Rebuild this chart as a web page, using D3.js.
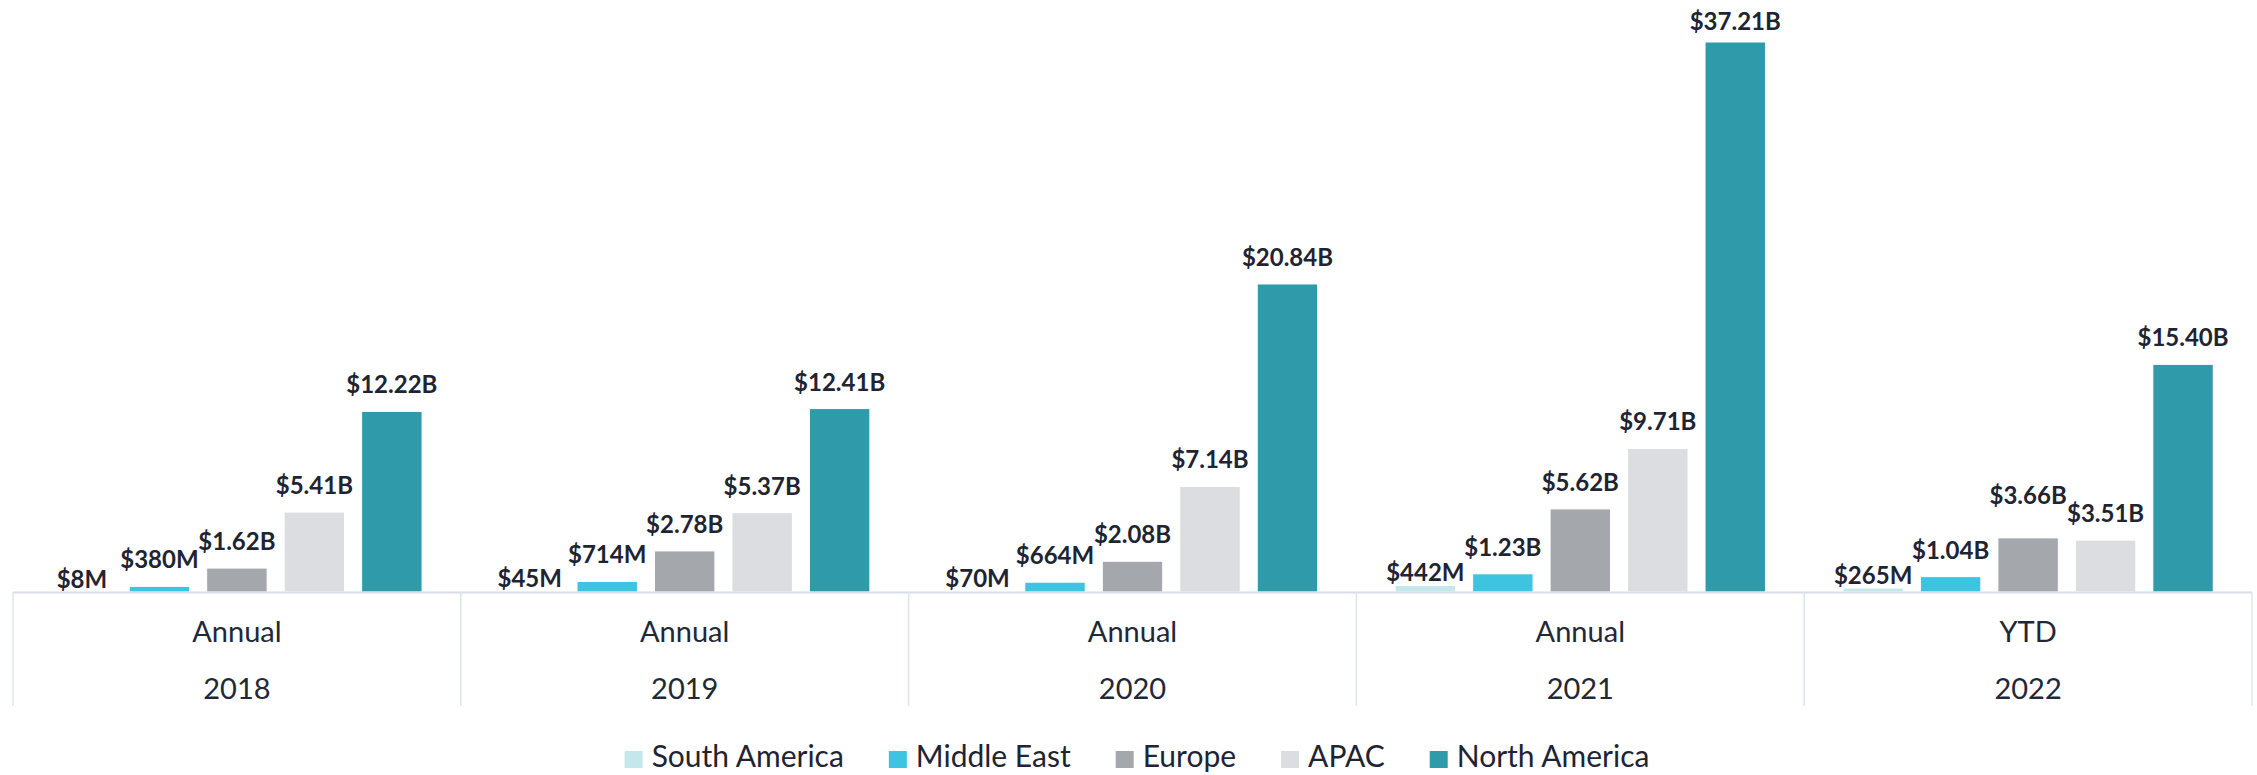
<!DOCTYPE html>
<html>
<head>
<meta charset="utf-8">
<script src="https://cdn.jsdelivr.net/npm/d3@7"></script>
<style>
  body { margin: 0; background: #fff; }
  svg { display: block; font-family: Lato, "Noto Sans", sans-serif; }
</style>
</head>
<body>
<svg id="chart"></svg>
<script>
// categories (two-level x axis)
const periods = ['Annual', 'Annual', 'Annual', 'Annual', 'YTD'];
const years = ['2018', '2019', '2020', '2021', '2022'];

// series, values in billions of dollars
const regions = ['South America', 'Middle East', 'Europe', 'APAC', 'North America'];
const southAmerica = [0.008, 0.045, 0.070, 0.442, 0.265];
const middleEast = [0.380, 0.714, 0.664, 1.23, 1.04];
const europe = [1.62, 2.78, 2.08, 5.62, 3.66];
const apac = [5.41, 5.37, 7.14, 9.71, 3.51];
const northAmerica = [12.22, 12.41, 20.84, 37.21, 15.40];

const colors = ['#c3e7eb', '#3cc4e1', '#a4a7ab', '#dcdde0', '#2f9aaa'];

const seriesValues = [southAmerica, middleEast, europe, apac, northAmerica];

const width = 2257, height = 775;
const margin = { top: 42, left: 13, right: 5, bottom: 183 };

const svg = d3.select('#chart')
    .attr('width', width)
    .attr('height', height);

// one row per bar
let bars = [];
years.forEach((yr, i) => {
    regions.forEach((r, j) => {
        bars.push({ year: yr, region: r, idx: j, value: seriesValues[j][i] });
    });
});

let x0 = d3.scaleBand()
    .domain(years)
    .range([margin.left, width - margin.right])
    .padding(0);

let x1 = d3.scaleBand()
    .domain(regions)
    .range([0, x0.bandwidth()])
    .paddingInner(0.22)
    .paddingOuter(0.5);

let y = d3.scaleLinear()
    .domain([0, d3.max(northAmerica)])
    .range([height - margin.bottom, margin.top]);

const baseY = y(0);

// bars
svg.append('g')
    .selectAll('rect')
    .data(bars)
    .join('rect')
        .attr('x', d => x0(d.year) + x1(d.region))
        .attr('y', d => y(d.value))
        .attr('width', x1.bandwidth())
        .attr('height', d => baseY - y(d.value))
        .attr('fill', d => colors[d.idx])
        .attr('stroke', '#fff')
        .attr('stroke-width', 1);

// axis frame
const frame = svg.append('g');
frame.append('line')
    .attr('x1', margin.left).attr('x2', width - margin.right)
    .attr('y1', baseY + 0.5).attr('y2', baseY + 0.5)
    .attr('stroke', '#d9dde6').attr('stroke-width', 2);

let edges = years.map(d => x0(d)).concat([x0.range()[1]]);
frame.selectAll('line.div')
    .data(edges)
    .join('line')
        .attr('class', 'div')
        .attr('x1', d => d).attr('x2', d => d)
        .attr('y1', baseY).attr('y2', baseY + 114)
        .attr('stroke', '#dfe3ea').attr('stroke-width', 1.5);

// the two rows of category labels
const axisTop = svg.append('g')
    .attr('transform', `translate(0, ${baseY})`)
    .call(d3.axisBottom(x0).tickSize(0).tickPadding(0).tickFormat((d, i) => periods[i]));
const axisBottom = svg.append('g')
    .attr('transform', `translate(0, ${baseY})`)
    .call(d3.axisBottom(x0).tickSize(0).tickPadding(0));

[axisTop, axisBottom].forEach(g => {
    g.select('.domain').remove();
    g.selectAll('text')
        .attr('font-family', 'Lato, sans-serif')
        .attr('font-size', 29)
        .attr('fill', '#222836')
        .attr('dy', null);
});
axisTop.selectAll('text').attr('y', 49.5);
axisBottom.selectAll('text').attr('y', 106.5);

// value labels
const fmt = v => v < 1 ? '$' + Math.round(v * 1000) + 'M' : '$' + v.toFixed(2) + 'B';

let labels = svg.append('g')
    .selectAll('text')
    .data(bars)
    .join('text')
        .attr('x', d => x0(d.year) + x1(d.region) + x1.bandwidth() / 2)
        .attr('text-anchor', 'middle')
        .attr('font-size', 24)
        .attr('font-weight', 700)
        .attr('fill', '#1e2432')
        .text(d => fmt(d.value));

// natural position above the bar (smallest series sits closer)
bars.forEach(d => {
    let gap = d.idx === 0 ? 4 : 18;
    d.ly = Math.max(29.5, y(d.value) - gap);
});
labels.each(function(d) { d.lw = this.getComputedTextLength(); });

// nudge overlapping neighbours: the higher label moves further up
years.forEach(yr => {
    let grp = bars.filter(d => d.year === yr);
    for (let k = 0; k < grp.length - 1; k++) {
        let a = grp[k], b = grp[k + 1];
        let ax = x0(a.year) + x1(a.region) + x1.bandwidth() / 2;
        let bx = x0(b.year) + x1(b.region) + x1.bandwidth() / 2;
        let hGap = (bx - ax) - (a.lw + b.lw) / 2;
        if (hGap < 4 && Math.abs(a.ly - b.ly) < 17) {
            if (a.ly <= b.ly) a.ly = b.ly - 18.5;
            else b.ly = a.ly - 18.5;
        }
    }
});
labels.attr('y', d => d.ly);

// legend
const legend = svg.append('g');
let items = legend.selectAll('g')
    .data(regions)
    .join('g');
items.append('rect')
    .attr('y', -16)
    .attr('width', 18)
    .attr('height', 17)
    .attr('fill', (d, i) => colors[i]);
items.append('text')
    .attr('x', 27)
    .attr('font-size', 30)
    .attr('fill', '#1e2432')
    .text(d => d);

let offs = [], cur = 0;
items.each(function() {
    offs.push(cur);
    let w = d3.select(this).select('text').node().getComputedTextLength();
    cur += 27 + w + 45;
});
cur -= 45;
items.attr('transform', (d, i) => `translate(${offs[i]}, 0)`);
legend.attr('transform', `translate(${1137 - cur / 2}, 767)`);
</script>
</body>
</html>
